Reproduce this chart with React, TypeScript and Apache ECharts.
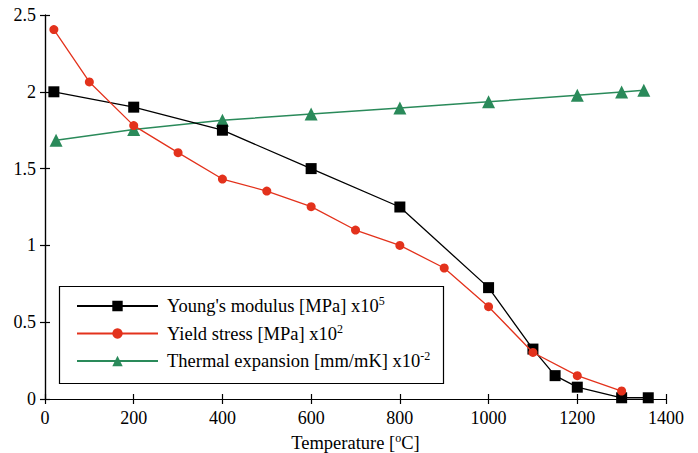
import React, { useEffect, useRef } from "react";
import * as echarts from "echarts";

const youngT = [20, 200, 400, 600, 800, 1000, 1100, 1150, 1200, 1300, 1360];
const youngV = [2.0, 1.9, 1.75, 1.5, 1.25, 0.725, 0.325, 0.152, 0.077, 0.008, 0.008];
const yieldT = [20, 100, 200, 300, 400, 500, 600, 700, 800, 900, 1000, 1100, 1200, 1300];
const yieldV = [2.405, 2.064, 1.78, 1.604, 1.432, 1.354, 1.252, 1.1, 1.0, 0.853, 0.601, 0.303, 0.152, 0.052];
const thermT = [25, 200, 400, 600, 800, 1000, 1200, 1300, 1350];
const thermV = [1.685, 1.755, 1.815, 1.855, 1.895, 1.935, 1.978, 1.998, 2.01];
const seriesBase = ["Young's modulus [MPa] x10", "Yield stress [MPa] x10", "Thermal expansion [mm/mK] x10"];
const seriesExp = ["5", "2", "-2"];
const seriesNames = seriesBase.map((b, i) => `${b}^${seriesExp[i]}`);
const xTicks = { min: 0, max: 1400, interval: 200 };
const yTicks = { min: 0, max: 2.5, interval: 0.5 };

const FONT = "'Liberation Serif', 'Times New Roman', serif";
const BLACK = "#000000";
const RED = "#e3321c";
const GREEN = "#2a8a5a";

const zip = (a: number[], b: number[]) => a.map((v, i) => [v, b[i]]);

export default function App() {
  const ref = useRef<HTMLDivElement>(null);
  useEffect(() => {
    if (!ref.current) return;
    const chart = echarts.init(ref.current, undefined, { renderer: "svg" });
    const rich = {
      t: { fontSize: 18.5, fontFamily: FONT, color: "#000", lineHeight: 22 },
      sup: { fontSize: 12, fontFamily: FONT, color: "#000", verticalAlign: "top", lineHeight: 22, padding: [0, 0, 7, 0] },
    };
    const axisCommon = {
      axisLine: { show: true, lineStyle: { color: "#000", width: 1.2 } },
      axisTick: { show: true, inside: true, length: 5, lineStyle: { color: "#000", width: 1.2 } },
      splitLine: { show: false },
    };
    chart.setOption({
      animation: false,
      backgroundColor: "#ffffff",
      grid: { left: 45, right: 32, top: 15, bottom: 54, containLabel: false, outerBoundsMode: "none" },
      xAxis: [
        {
          type: "value",
          ...xTicks,
          position: "bottom",
          ...axisCommon,
          axisLabel: { color: "#000", fontSize: 18, fontFamily: FONT, margin: 10, formatter: (v: number) => String(v) },
          name: "{t|Temperature [}{sup|o}{t|C]}",
          nameLocation: "middle",
          nameGap: 29,
          nameTextStyle: { color: "#000", fontSize: 18, fontFamily: FONT, rich },
        },
        {
          type: "value",
          ...xTicks,
          position: "top",
          ...axisCommon,
          axisLabel: { show: false },
        },
      ],
      yAxis: [
        {
          type: "value",
          ...yTicks,
          position: "left",
          ...axisCommon,
          axisLabel: { color: "#000", fontSize: 18, fontFamily: FONT, margin: 9, formatter: (v: number) => String(v) },
        },
        {
          type: "value",
          ...yTicks,
          position: "right",
          ...axisCommon,
          axisLabel: { show: false },
        },
      ],
      graphic: [
        {
          type: "rect",
          shape: { x: 59.5, y: 286.5, width: 384, height: 97 },
          style: { fill: "#fff", stroke: "#000", lineWidth: 1.2 },
          z: 50,
        },
      ],
      legend: {
        orient: "vertical",
        left: 76,
        top: 295,
        padding: 0,
        itemWidth: 81,
        itemHeight: 13,
        itemGap: 7,
        z: 60,
        formatter: (name: string) => {
          const i = seriesNames.indexOf(name);
          return `{t|${seriesBase[i]}}{sup|${seriesExp[i]}}`;
        },
        textStyle: {
          color: "#000",
          fontSize: 18,
          fontFamily: FONT,
          padding: [0, 0, 0, 4],
          rich,
        },
        data: seriesNames,
      },
      series: [
        {
          name: seriesNames[0],
          type: "line",
          data: zip(youngT, youngV),
          symbol: "rect",
          symbolSize: 11,
          lineStyle: { color: BLACK, width: 1.3 },
          itemStyle: { color: BLACK },
          z: 3,
        },
        {
          name: seriesNames[1],
          type: "line",
          data: zip(yieldT, yieldV),
          symbol: "circle",
          symbolSize: 9,
          lineStyle: { color: RED, width: 1.3 },
          itemStyle: { color: RED },
          z: 4,
        },
        {
          name: seriesNames[2],
          type: "line",
          data: zip(thermT, thermV),
          symbol: "triangle",
          symbolSize: 13,
          lineStyle: { color: GREEN, width: 1.5 },
          itemStyle: { color: GREEN },
          z: 2,
        },
      ],
    });
    return () => chart.dispose();
  }, []);
  return <div ref={ref} style={{ width: 698, height: 453, position: "absolute", left: 0, top: 0 }} />;
}
